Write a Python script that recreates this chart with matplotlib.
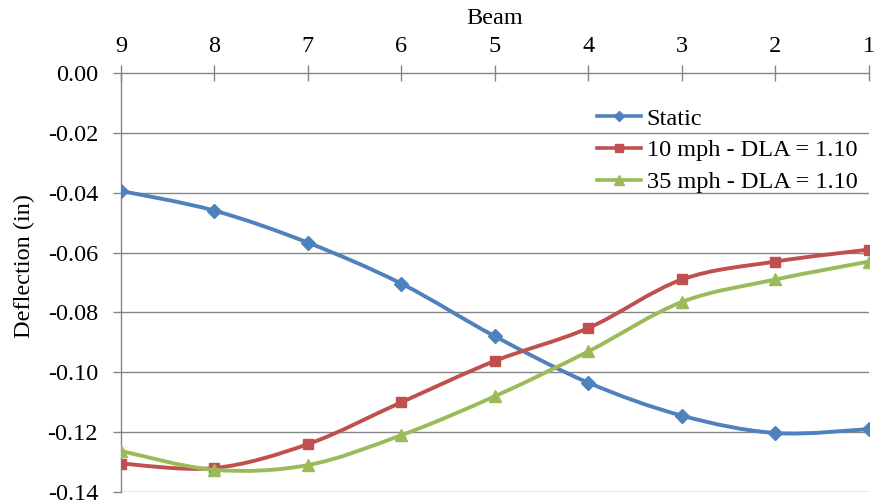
import numpy as np
import matplotlib
matplotlib.use("Agg")
import matplotlib.pyplot as plt
from matplotlib.path import Path
from matplotlib.patches import PathPatch
from matplotlib.lines import Line2D

plt.rcParams['font.family'] = ['Liberation Serif', 'DejaVu Serif']

beams = [9, 8, 7, 6, 5, 4, 3, 2, 1]
static = [-0.0394, -0.0460, -0.0567, -0.0704, -0.0880, -0.1035, -0.1145, -0.1203, -0.1190]
mph10 = [-0.1305, -0.1320, -0.1240, -0.1100, -0.0962, -0.0852, -0.0690, -0.0630, -0.0590]
mph35 = [-0.1263, -0.1326, -0.1310, -0.1210, -0.1080, -0.0930, -0.0765, -0.0690, -0.0630]
labels = ['Static', '10 mph - DLA = 1.10', '35 mph - DLA = 1.10']
colors = ['#4F81BD', '#C0504D', '#9BBB59']
markers = ['D', 's', '^']
msizes = [7, 7.5, 9]
yticks = [0.00, -0.02, -0.04, -0.06, -0.08, -0.10, -0.12, -0.14]


def smooth_path(x, y):
    # excel style smoothed line as cubic bezier segments
    p = np.column_stack([x, y]).astype(float)
    n = len(p)
    verts = [p[0]]
    codes = [Path.MOVETO]
    for i in range(n - 1):
        p0 = p[i - 1] if i > 0 else p[i]
        p3 = p[i + 2] if i + 2 < n else p[i + 1]
        c1 = p[i] + (p[i + 1] - p0) / 6.0
        c2 = p[i + 1] - (p3 - p[i]) / 6.0
        verts += [c1, c2, p[i + 1]]
        codes += [Path.CURVE4] * 3
    return Path(verts, codes)


fig = plt.figure(figsize=(8.76, 5.03), dpi=100)
ax = fig.add_axes([0.1381, 0.0219, 0.8539, 0.833])

fs = 17.5
grid_c = '#868686'
for yv in yticks[1:]:
    ax.axhline(yv, color=grid_c, lw=1.0, zorder=1)

handles = []
for k, ys in enumerate([static, mph10, mph35]):
    patch = PathPatch(smooth_path(beams, ys), fill=False, edgecolor=colors[k],
                      lw=2.8, zorder=3 + k, capstyle='round', joinstyle='round')
    ax.add_patch(patch)
    ax.plot(beams, ys, linestyle='none', marker=markers[k], ms=msizes[k],
            color=colors[k], zorder=3.5 + k)
    handles.append(Line2D([], [], color=colors[k], lw=2.6, marker=markers[k],
                          ms=msizes[k] * 0.8))

ax.set_xlim(9, 1)
ax.set_ylim(-0.14, 0.0)
ax.set_xticks(beams)
ax.set_xticklabels([str(b) for b in beams])
ax.set_yticks(yticks)
ax.set_yticklabels(['%.2f' % v for v in yticks])

ax.xaxis.tick_top()
ax.xaxis.set_label_position('top')
ax.tick_params(axis='x', direction='inout', length=12, width=1, color=grid_c,
               labelsize=fs, pad=5.5)
ax.tick_params(axis='y', direction='out', length=6, width=1, color=grid_c,
               labelsize=fs, pad=10.5)

for s in ['right', 'bottom']:
    ax.spines[s].set_visible(False)
for s in ['top', 'left']:
    ax.spines[s].set_color(grid_c)
    ax.spines[s].set_linewidth(1.0)

ax.set_xlabel('Beam', fontsize=fs, labelpad=9)
ax.set_ylabel('Deflection (in)', fontsize=fs)
ax.yaxis.set_label_coords(-0.115, 0.54)

ax.legend(handles, labels, loc='upper right', bbox_to_anchor=(1.004, 0.952),
          frameon=False, fontsize=fs, handlelength=1.8, labelspacing=0.4,
          handletextpad=0.25, borderaxespad=0.2)

fig.savefig('out.png', dpi=100)
